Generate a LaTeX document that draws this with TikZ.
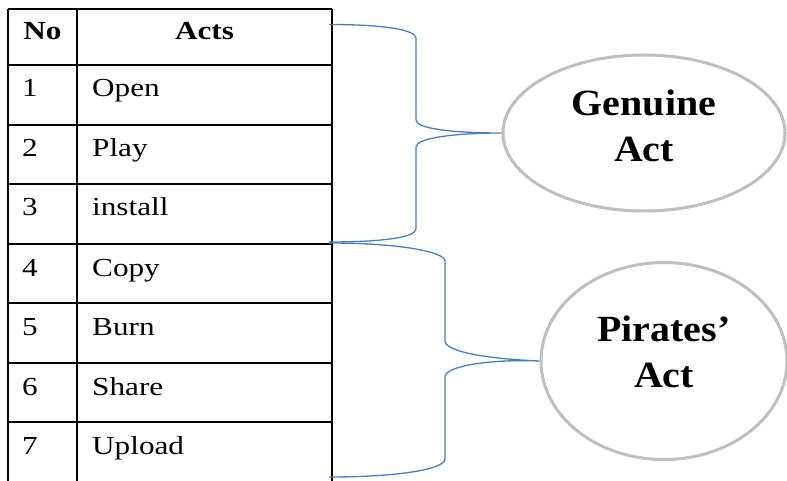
\documentclass[tikz,border=0pt]{standalone}
\usepackage{fontspec}
\setmainfont{Liberation Serif}[FakeStretch=1.2]
\newfontfamily\bubfont{Liberation Serif}[FakeStretch=1.08]
\usetikzlibrary{shapes.geometric}
\definecolor{bracecol}{HTML}{4A7EBB}
\definecolor{ellcol}{HTML}{BFBFBF}
\begin{document}
\begin{tikzpicture}[x=1pt,y=-1pt,
  cell/.style={anchor=base west,inner sep=0pt,font=\fontsize{26}{30}\selectfont},
  head/.style={anchor=base,inner sep=0pt,font=\fontsize{26}{30}\selectfont\bfseries},
  grid/.style={line width=1.6pt,black},
  bracel/.style={line width=1.3pt,bracecol},
  bubble/.style={ellipse,draw=ellcol,line width=3pt,inner sep=0pt},
  bubtext/.style={align=center,inner sep=0pt,font=\bubfont\fontsize{37}{46}\selectfont\bfseries}]
\useasboundingbox (0,0) rectangle (787,481);
% table grid
\draw[grid] (8,9) -- (332,9);
\foreach \yy in {65,125,184,244,303,363,422} \draw[grid] (8,\yy) -- (332,\yy);
\draw[grid] (8,9) -- (8,490);
\draw[grid] (77,9) -- (77,490);
\draw[grid] (332,9) -- (332,490);
% header
\node[head] (hno) at (42.5,40) {No};
\node[head] (hacts) at (204.5,40) {Acts};
% rows
\node[cell] (n1) at (22,97) {1};   \node[cell] (a1) at (92,97) {Open};
\node[cell] (n2) at (22,157) {2};  \node[cell] (a2) at (92,157) {Play};
\node[cell] (n3) at (22,216) {3};  \node[cell] (a3) at (92,216) {install};
\node[cell] (n4) at (22,276) {4};  \node[cell] (a4) at (92,276) {Copy};
\node[cell] (n5) at (22,335) {5};  \node[cell] (a5) at (92,335) {Burn};
\node[cell] (n6) at (22,395) {6};  \node[cell] (a6) at (92,395) {Share};
\node[cell] (n7) at (22,454) {7};  \node[cell] (a7) at (92,454) {Upload};
% ellipses
\node[bubble,minimum width=282pt,minimum height=156pt] (gen) at (644,133) {};
\node[bubtext] (gentxt) at (644,126) {Genuine\\Act};
\node[bubble,minimum width=246pt,minimum height=197pt] (pir) at (664,361) {};
\node[bubtext] (pirtxt) at (664,352) {Pirates’\\Act};
% brace end points
\coordinate (g1) at (329,24.5);
\coordinate (g2) at (329,242);
\coordinate (p1) at (329,243);
\coordinate (p2) at (329,477);
% braces
\draw[bracel] (g1) .. controls (385,24.5) and (416,30) .. (416,38)
  -- (416,120) .. controls (416,129) and (455,133) .. (gen.west)
  .. controls (455,133) and (416,138) .. (416,147)
  -- (416,229) .. controls (416,237) and (385,242) .. (g2);
\draw[bracel] (p1) .. controls (400,243) and (445,252) .. (445,261)
  -- (445,341) .. controls (445,352) and (490,359) .. (pir.west)
  .. controls (490,359) and (445,366) .. (445,377)
  -- (445,459) .. controls (445,469) and (400,477) .. (p2);
\end{tikzpicture}
\end{document}
